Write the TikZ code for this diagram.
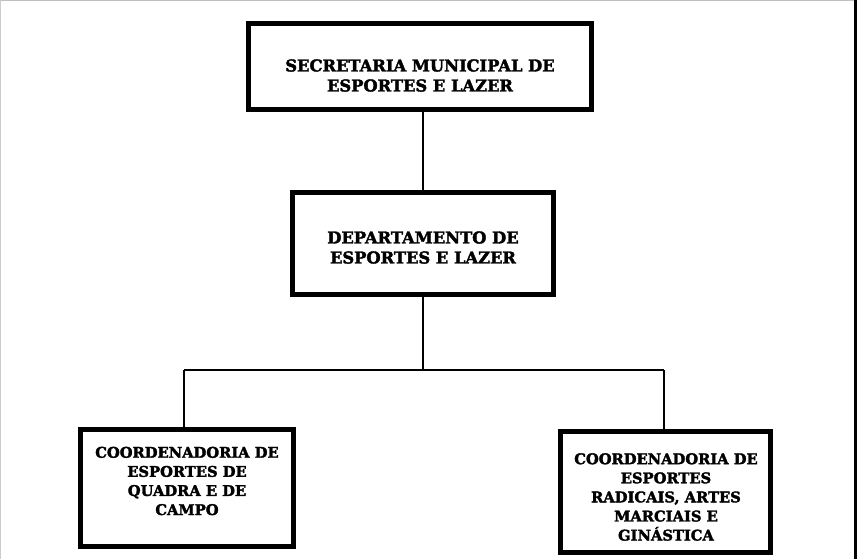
\documentclass[tikz,border=0pt]{standalone}
\usepackage{fontspec}
\setmainfont{DejaVu Serif}[BoldFeatures={FakeBold=2.2}]
\usetikzlibrary{calc}
\begin{document}
\begin{tikzpicture}[x=1pt,y=-1pt,
  box/.style={draw=black, line width=5pt, fill=white, inner sep=0pt},
  txt/.style={align=center, font=\bfseries\fontsize{16.3}{20}\selectfont, inner sep=0pt},
  smalltxt/.style={align=center, font=\bfseries\fontsize{14.7}{19.1}\selectfont, inner sep=0pt},
  conn/.style={draw=black, line width=1.6pt}]
\useasboundingbox (0,0) rectangle (857,559);
\fill[white] (0,0) rectangle (857,559);
\draw[black!25, line width=1pt] (0,0.5) -- (857,0.5);
\draw[black!20, line width=1pt] (0.5,0) -- (0.5,559);
\fill[black] (854,0) rectangle (857,559);
% boxes
\node[box, minimum width=343pt, minimum height=86pt] (sec) at (420,66.5) {};
\node[box, minimum width=261pt, minimum height=102pt] (dep) at (423,243.5) {};
\node[box, minimum width=213pt, minimum height=117pt] (cq) at (187,488) {};
\node[box, minimum width=210pt, minimum height=121pt] (cr) at (665.5,492) {};
% texts
\node[txt] (tsec) at (420,75.5) {SECRETARIA MUNICIPAL DE\\ESPORTES E LAZER};
\node[txt] (tdep) at (423,247.5) {DEPARTAMENTO DE\\ESPORTES E LAZER};
\node[smalltxt] (tcq) at (187,481) {COORDENADORIA DE\\ESPORTES DE\\QUADRA E DE\\CAMPO};
\node[smalltxt] (tcr) at (666,497) {COORDENADORIA DE\\ESPORTES\\RADICAIS, ARTES\\MARCIAIS E\\GINÁSTICA};
% connectors
\coordinate (j) at (423,370);
\coordinate (jl) at (184,370);
\coordinate (jr) at (664,370);
\draw[conn] (sec.south -| dep.north) -- (dep.north);
\draw[conn] (dep.south) -- (j);
\draw[conn] (jl) -- (jr);
\draw[conn] (jl) -- (jl |- cq.north);
\draw[conn] (jr) -- (jr |- cr.north);
\end{tikzpicture}
\end{document}
